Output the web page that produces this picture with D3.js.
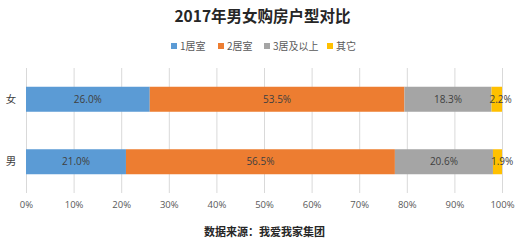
<!DOCTYPE html>
<html><head><meta charset="utf-8">
<script src="https://cdn.jsdelivr.net/npm/d3@7"></script>
<style>body{margin:0;background:#fff}svg{display:block}</style>
</head><body>
<script>
const categories = ["女", "男"];
const seriesNames = ["1居室", "2居室", "3居及以上", "其它"];
const seriesColors = ["#5B9BD5", "#ED7D31", "#A5A5A5", "#FFC000"];
const values = {
  "1居室": [26.0, 21.0],
  "2居室": [53.5, 56.5],
  "3居及以上": [18.3, 20.6],
  "其它": [2.2, 1.9]
};
const tickValues = [0,10,20,30,40,50,60,70,80,90,100];
const title = "2017年男女购房户型对比";
const source = "数据来源：我爱我家集团";

const W = 525, H = 241;
const cjk = "'Noto Sans CJK SC', 'Noto Sans', sans-serif";
const lat = "'Open Sans', 'Liberation Sans', Arial, sans-serif";
const svg = d3.select("body").append("svg").attr("width", W).attr("height", H);

const x = d3.scaleLinear().domain([0, 100]).range([26, 502]);
const y = d3.scaleBand().domain(categories).range([68, 193]).paddingInner(0.6).paddingOuter(0.3);

// gridlines
svg.append("g").selectAll("line").data(tickValues).join("line")
  .attr("x1", d => x(d) + 0.5).attr("x2", d => x(d) + 0.5)
  .attr("y1", 68).attr("y2", 193)
  .attr("stroke", "#d9d9d9").attr("stroke-width", 1);

// axis tick labels
const xAxis = d3.axisBottom(x).tickValues(tickValues).tickSize(0).tickPadding(0).tickFormat(d => d + "%");
const ax = svg.append("g").attr("transform", "translate(0,201)").call(xAxis);
ax.select(".domain").remove();
ax.selectAll("text").attr("font-family", lat).attr("font-size", 9.5).attr("fill", "#595959");

// stacked bars
const rows = categories.map((c, i) => {
  const r = {cat: c};
  seriesNames.forEach(s => r[s] = values[s][i]);
  return r;
});
const stack = d3.stack().keys(seriesNames)(rows);
const layer = svg.append("g").selectAll("g").data(stack).join("g")
  .attr("fill", (d, i) => seriesColors[i]);
layer.selectAll("rect").data(d => d).join("rect")
  .attr("x", d => x(d[0])).attr("width", d => x(d[1]) - x(d[0]))
  .attr("y", d => y(d.data.cat)).attr("height", y.bandwidth());

// value labels
stack.forEach((s, si) => {
  svg.append("g").selectAll("text").data(s).join("text")
    .attr("x", d => si === 3 ? x(d[0]) - 2 : (x(d[0]) + x(d[1])) / 2)
    .attr("y", d => y(d.data.cat) + y.bandwidth() / 2)
    .attr("dy", "0.35em")
    .attr("text-anchor", si === 3 ? "start" : "middle")
    .attr("font-family", lat).attr("font-size", 10)
    .attr("fill", "#404040")
    .text(d => (d[1] - d[0]).toFixed(1) + "%");
});

// category labels
svg.append("g").selectAll("text").data(categories).join("text")
  .attr("x", 11).attr("y", d => y(d) + y.bandwidth() / 2).attr("dy", "0.35em")
  .attr("text-anchor", "middle").attr("font-family", cjk).attr("font-size", 10.5).attr("fill", "#404040")
  .text(d => d);

// title
svg.append("text").attr("x", W / 2).attr("y", 22).attr("text-anchor", "middle")
  .attr("font-family", cjk).attr("font-weight", "bold").attr("font-size", 15.5).attr("fill", "#262626")
  .text(title);

// legend
const legendX = [171, 218, 264, 327];
const lg = svg.append("g").selectAll("g").data(seriesNames).join("g")
  .attr("transform", (d, i) => `translate(${legendX[i]},46)`);
lg.append("rect").attr("x", 0).attr("y", -3).attr("width", 6).attr("height", 6).attr("fill", (d, i) => seriesColors[i]);
lg.append("text").attr("x", 9).attr("dy", "0.35em").attr("font-family", cjk).attr("font-size", 10)
  .attr("fill", "#595959").text(d => d);

// source
svg.append("text").attr("x", W / 2 + 2).attr("y", 232).attr("dy", "0.35em").attr("text-anchor", "middle")
  .attr("font-family", cjk).attr("font-weight", "bold").attr("font-size", 11).attr("fill", "#262626")
  .text(source);
</script>
</body></html>
